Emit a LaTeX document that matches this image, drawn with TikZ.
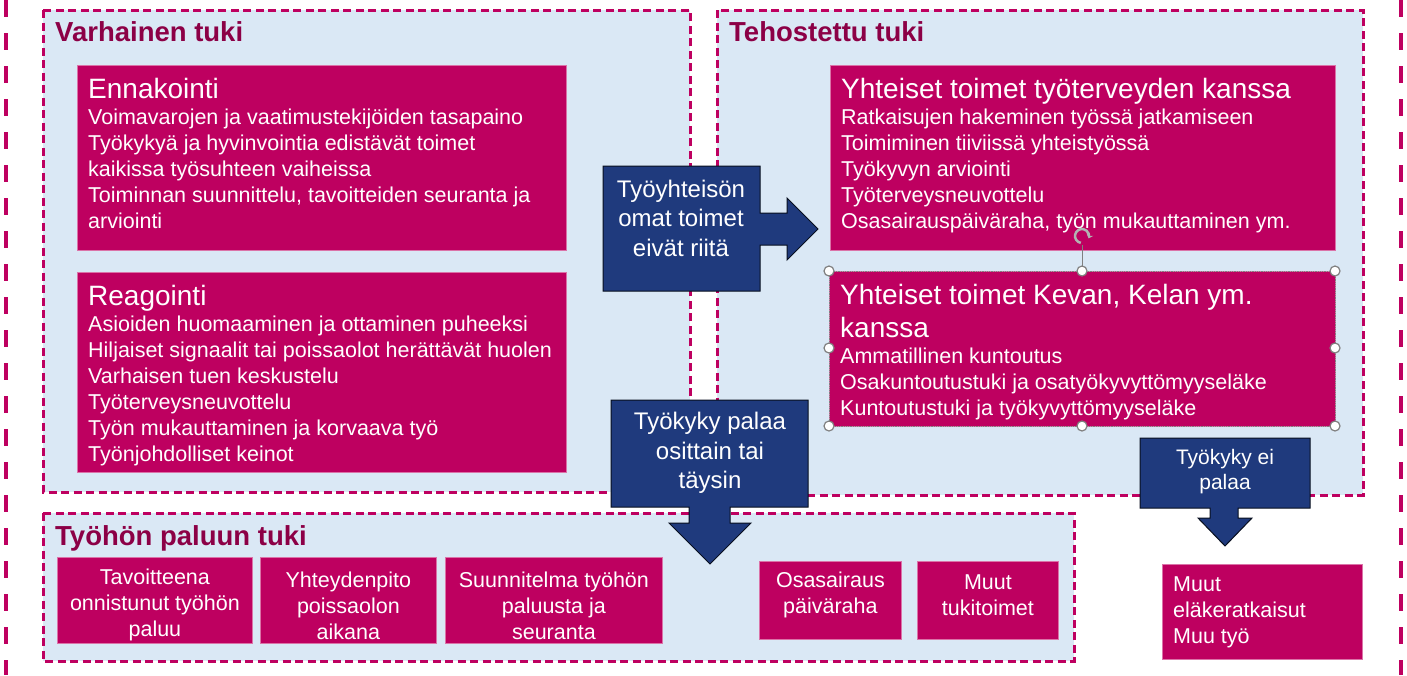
\documentclass[tikz,border=0pt]{standalone}
\usepackage{fontspec}
\setmainfont{Liberation Sans}
\usetikzlibrary{positioning}
\usetikzlibrary{arrows.meta}

\definecolor{tukipink}{RGB}{190,0,96}
\definecolor{tukiblue}{RGB}{218,232,245}
\definecolor{tukinavy}{RGB}{31,58,125}
\definecolor{tukititle}{RGB}{140,0,70}

\tikzset{
  outerline/.style={tukipink, line width=4pt, dash pattern=on 17pt off 16pt},
  frame/.style={draw=tukipink, fill=tukiblue, line width=3pt, dash pattern=on 8pt off 4.5pt},
  frametitle/.style={anchor=base west, text=tukititle, inner sep=0pt,
    font=\fontsize{27.5}{33}\selectfont\bfseries},
  pinkbox/.style={fill=tukipink, draw=tukipink!55!white, line width=0.8pt,
    anchor=north west, inner sep=0pt},
  listtext/.style={anchor=west, align=left, text=white, inner sep=0pt,
    font=\fontsize{21.5}{26}\selectfont},
  smalltext/.style={align=center, text=white, inner sep=0pt,
    font=\fontsize{21.5}{26}\selectfont},
  navyarrow/.style={fill=tukinavy, draw=black!75!tukinavy, line width=1pt},
  arrowtext/.style={text=white, align=center, inner sep=0pt,
    font=\fontsize{24}{29.5}\selectfont},
  handle/.style={circle, fill=white, draw=gray, line width=1.2pt, minimum size=10pt, inner sep=0pt}
}
\newcommand{\boxhead}[1]{{\fontsize{28}{34}\selectfont #1}}

\begin{document}
\begin{tikzpicture}[x=1pt, y=-1pt]
  \useasboundingbox (0,0) rectangle (1407,675);

  % reunaviivat
  \draw[outerline] (6,0) -- (6,675);
  \draw[outerline] (1401,0) -- (1401,675);

  % kehykset
  \draw[frame] (43,10) rectangle (690,492);
  \draw[frame] (717,10) rectangle (1363,495);
  \draw[frame] (43,513) rectangle (1074,661);

  \node[frametitle] (varhainen) at (55,41) {Varhainen tuki};
  \node[frametitle] (tehostettu) at (729,41) {Tehostettu tuki};
  \node[frametitle] (paluu) at (55,545) {Työhön paluun tuki};

  % varhainen tuki
  \node[pinkbox, minimum width=489pt, minimum height=185pt] (ennakointi) at (77,65) {};
  \node[listtext] (ennakointiteksti) at ([xshift=11pt, yshift=4pt]ennakointi.west)
    {\boxhead{Ennakointi}\\
     Voimavarojen ja vaatimustekijöiden tasapaino\\
     Työkykyä ja hyvinvointia edistävät toimet\\
     kaikissa työsuhteen vaiheissa\\
     Toiminnan suunnittelu, tavoitteiden seuranta ja\\
     arviointi};
  \node[pinkbox, minimum width=489pt, minimum height=200pt] (reagointi) at (77,272) {};
  \node[listtext] (reagointiteksti) at ([xshift=11pt, yshift=-3pt]reagointi.west)
    {\boxhead{Reagointi}\\
     Asioiden huomaaminen ja ottaminen puheeksi\\
     Hiljaiset signaalit tai poissaolot herättävät huolen\\
     Varhaisen tuen keskustelu\\
     Työterveysneuvottelu\\
     Työn mukauttaminen ja korvaava työ\\
     Työnjohdolliset keinot};

  % tehostettu tuki
  \node[pinkbox, minimum width=505pt, minimum height=185pt] (tyoterveys) at (830,65) {};
  \node[listtext] (tyoterveysteksti) at ([xshift=11pt, yshift=2pt]tyoterveys.west)
    {\boxhead{Yhteiset toimet työterveyden kanssa}\\
     Ratkaisujen hakeminen työssä jatkamiseen\\
     Toimiminen tiiviissä yhteistyössä\\
     Työkyvyn arviointi\\
     Työterveysneuvottelu\\
     Osasairauspäiväraha, työn mukauttaminen ym.};
  \node[pinkbox, minimum width=506pt, minimum height=155pt] (kevan) at (829,271) {};
  \node[listtext] (kevanteksti) at ([xshift=11pt, yshift=-3pt]kevan.west)
    {\boxhead{Yhteiset toimet Kevan, Kelan ym.}\\[6pt]
     \boxhead{kanssa}\\
     Ammatillinen kuntoutus\\
     Osakuntoutustuki ja osatyökyvyttömyyseläke\\
     Kuntoutustuki ja työkyvyttömyyseläke};
  \draw[gray, densely dotted, line width=0.8pt] (kevan.north west) rectangle (kevan.south east);

  % valintakahvat
  \draw[gray, line width=1pt] (1082,271) -- (1082,245);
  \draw[gray!60, line width=2.5pt, -{Stealth[length=4pt, width=7pt]}]
    (1080.8,242.9) arc[start angle=100, end angle=380, radius=7];
  \foreach \hx/\hy [count=\i] in {829/271, 1082/271, 1335/271, 829/348,
                                  1335/348, 829/426, 1082/426, 1335/426}
    \node[handle] (kahva\i) at (\hx,\hy) {};

  % työhön paluun tuki
  \node[pinkbox, minimum width=195pt, minimum height=86pt] (tavoite) at (57,557) {};
  \node[pinkbox, minimum width=176pt, minimum height=86pt] (yhteydenpito) at (260,557) {};
  \node[pinkbox, minimum width=217pt, minimum height=86pt] (suunnitelma) at (445,557) {};
  \node[pinkbox, minimum width=142pt, minimum height=78pt] (osasairaus) at (759,561) {};
  \node[pinkbox, minimum width=141pt, minimum height=78pt] (muut) at (917,561) {};
  \node[pinkbox, minimum width=200pt, minimum height=95pt] (elake) at (1162,564) {};

  \node[smalltext] (tavoiteteksti) at ([yshift=-5pt]tavoite.center)
    {Tavoitteena\\ onnistunut työhön\\ paluu};
  \node[smalltext] (yhteydenpitoteksti) at ([yshift=-5pt]yhteydenpito.center)
    {Yhteydenpito\\ poissaolon\\ aikana};
  \node[smalltext] (suunnitelmateksti) at ([yshift=-5pt]suunnitelma.center)
    {Suunnitelma työhön\\ paluusta ja\\ seuranta};
  \node[smalltext] (osasairausteksti) at ([yshift=5pt]osasairaus.center)
    {Osasairaus\\ päiväraha};
  \node[smalltext] (muutteksti) at ([yshift=5pt]muut.center)
    {Muut\\ tukitoimet};
  \node[listtext] (elaketeksti) at ([xshift=11pt]elake.west)
    {Muut\\ eläkeratkaisut\\ Muu työ};

  % nuolet
  \draw[navyarrow] (603,166) -- (760,166) -- (760,213) -- (787,213) -- (787,198)
    -- (818,229) -- (787,260) -- (787,245) -- (760,245) -- (760,291) -- (603,291) -- cycle;
  \node[arrowtext] (eivat) at (681,218) {Työyhteisön\\ omat toimet\\ eivät riitä};

  \draw[navyarrow] (611,400) -- (808,400) -- (808,507) -- (730,507) -- (730,523)
    -- (751,523) -- (710,564) -- (669,523) -- (689,523) -- (689,507) -- (611,507) -- cycle;
  \node[arrowtext] (palaa) at (710,453) {Työkyky palaa\\ osittain tai\\ täysin};

  \draw[navyarrow] (1140,438) -- (1310,438) -- (1310,508) -- (1238,508) -- (1238,518)
    -- (1252,518) -- (1225,546) -- (1198,518) -- (1210,518) -- (1210,508) -- (1140,508) -- cycle;
  \node[arrowtext, font=\fontsize{21}{25}\selectfont] (eipalaa) at (1225,472) {Työkyky ei\\ palaa};
\end{tikzpicture}
\end{document}
